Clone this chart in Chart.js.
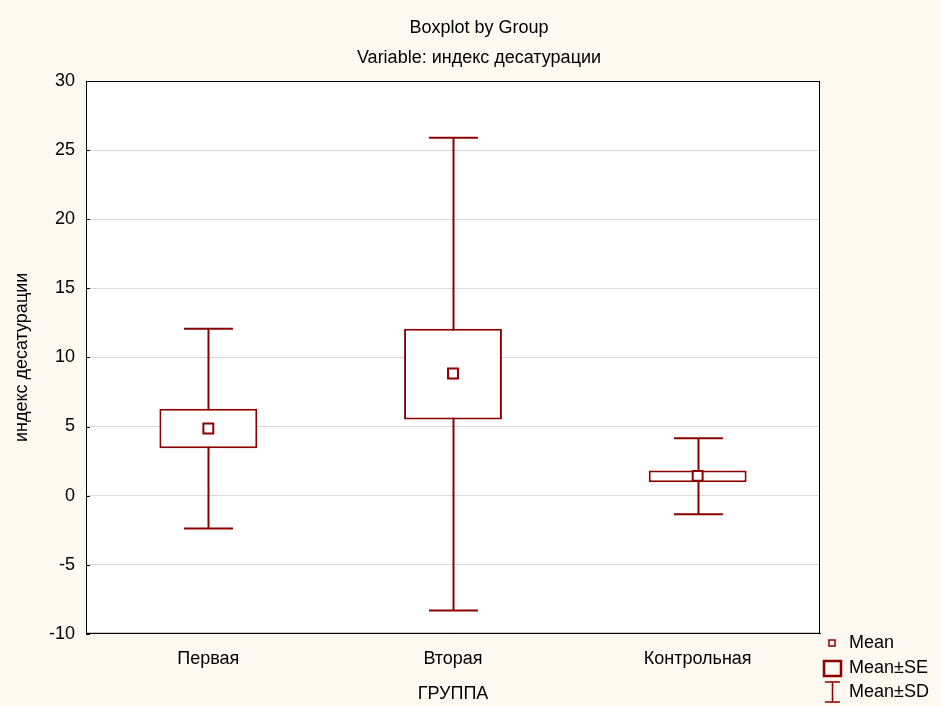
<!DOCTYPE html>
<html>
<head>
<meta charset="utf-8">
<script src="https://cdn.jsdelivr.net/npm/chart.js@4.4.1/dist/chart.umd.min.js"></script>
<style>
  body { margin: 0; background: #fdf9f0; }
  #wrap { width: 941px; height: 706px; }
</style>
</head>
<body>
<div id="wrap"><canvas id="chart" width="941" height="706"></canvas></div>
<script>
// data
const categories = ['Первая', 'Вторая', 'Контрольная']
const means = [4.86, 8.84, 1.43]
const seLow = [3.43, 5.51, 0.97]
const seHigh = [6.28, 12.08, 1.81]
const sdLow = [-2.38, -8.31, -1.35]
const sdHigh = [12.08, 25.89, 4.15]
const yMin = -10
const yMax = 30
const yStep = 5
const titleLines = ['Boxplot by Group', 'Variable: индекс десатурации']

const RED = '#8b0000'
const FONT = "'Liberation Sans', Arial, sans-serif"

const background = {
  id: 'background',
  beforeDraw(chart) {
    const { ctx, chartArea: a } = chart
    ctx.save()
    ctx.fillStyle = '#fdf9f0'
    ctx.fillRect(0, 0, chart.width, chart.height)
    ctx.fillStyle = '#ffffff'
    ctx.fillRect(a.left, a.top, a.right - a.left, a.bottom - a.top)
    ctx.restore()
  },
}

const whiskers = {
  id: 'whiskers',
  beforeDatasetsDraw(chart) {
    const { ctx, scales } = chart
    const x = scales.x
    const y = scales.y
    const capHalf = (x.width / categories.length) * 0.1
    ctx.save()
    ctx.strokeStyle = RED
    ctx.lineWidth = 2
    categories.forEach((c, i) => {
      const px = Math.round(x.getPixelForValue(i)) + 0.5
      const top = y.getPixelForValue(sdHigh[i])
      const bot = y.getPixelForValue(sdLow[i])
      ctx.beginPath()
      ctx.moveTo(px, top)
      ctx.lineTo(px, bot)
      ctx.moveTo(px - capHalf, top)
      ctx.lineTo(px + capHalf, top)
      ctx.moveTo(px - capHalf, bot)
      ctx.lineTo(px + capHalf, bot)
      ctx.stroke()
    })
    ctx.restore()
  },
  afterDraw(chart) {
    const { ctx, chartArea: a, scales } = chart
    ctx.save()
    // frame and small inner ticks
    ctx.strokeStyle = '#000'
    ctx.lineWidth = 1
    ctx.strokeRect(a.left + 0.5, a.top + 0.5, a.right - a.left - 1, a.bottom - a.top - 1)
    scales.y.ticks.forEach((t) => {
      const py = Math.round(scales.y.getPixelForValue(t.value)) + 0.5
      ctx.beginPath()
      ctx.moveTo(a.left, py)
      ctx.lineTo(a.left + 4, py)
      ctx.stroke()
    })
    ctx.font = '18px ' + FONT
    ctx.fillStyle = '#000'
    ctx.textBaseline = 'middle'
    // titles (centred a bit right of the canvas middle, as in the original)
    ctx.textAlign = 'center'
    ctx.fillText(titleLines[0], 479, 28)
    ctx.fillText(titleLines[1], 479, 58)
    // legend
    const lx = 832
    ctx.textAlign = 'left'
    ctx.fillText('Mean', 849, 643)
    ctx.fillText('Mean±SE', 849, 668)
    ctx.fillText('Mean±SD', 849, 692)
    ctx.strokeStyle = RED
    ctx.lineWidth = 1.5
    ctx.strokeRect(lx - 3, 640, 6, 6)
    ctx.lineWidth = 2.5
    ctx.strokeRect(lx - 8, 661, 17, 15)
    ctx.lineWidth = 1.5
    ctx.beginPath()
    ctx.moveTo(lx - 7, 682)
    ctx.lineTo(lx + 8, 682)
    ctx.moveTo(lx + 0.5, 682)
    ctx.lineTo(lx + 0.5, 702)
    ctx.moveTo(lx - 7, 702)
    ctx.lineTo(lx + 8, 702)
    ctx.stroke()
    ctx.restore()
  },
}

Chart.defaults.font.family = FONT
Chart.defaults.color = '#000'

new Chart(document.getElementById('chart'), {
  type: 'bar',
  data: {
    labels: categories,
    datasets: [
      {
        type: 'line',
        label: 'Mean',
        data: means,
        showLine: false,
        pointStyle: 'rect',
        pointRadius: 7,
        pointBorderWidth: 2,
        pointBackgroundColor: '#fff',
        pointBorderColor: RED,
        order: 0,
      },
      {
        label: 'Mean±SE',
        data: seLow.map((lo, i) => [lo, seHigh[i]]),
        backgroundColor: '#fff',
        borderColor: RED,
        borderWidth: 2,
        borderSkipped: false,
        categoryPercentage: 1,
        barPercentage: 0.4,
        order: 1,
      },
    ],
  },
  options: {
    responsive: false,
    animation: false,
    layout: { padding: { left: 0, right: 121, top: 81, bottom: 1 } },
    plugins: {
      legend: { display: false },
      tooltip: { enabled: false },
      title: { display: false },
    },
    scales: {
      x: {
        offset: true,
        grid: { display: false, drawTicks: false },
        border: { display: true, color: '#000' },
        ticks: { font: { size: 18 }, padding: 14 },
        title: {
          display: true,
          text: 'ГРУППА',
          font: { size: 18 },
          padding: { top: 0, bottom: 0 },
        },
      },
      y: {
        min: yMin,
        max: yMax,
        ticks: { stepSize: yStep, font: { size: 18 }, padding: 11 },
        grid: { color: '#d9d9d9', drawTicks: false },
        border: { display: true, color: '#000' },
        title: {
          display: true,
          text: 'индекс десатурации',
          font: { size: 18 },
          padding: { top: 11 },
        },
        afterFit(scale) {
          scale.width = 86
        },
      },
    },
  },
  plugins: [background, whiskers],
})
</script>
</body>
</html>
